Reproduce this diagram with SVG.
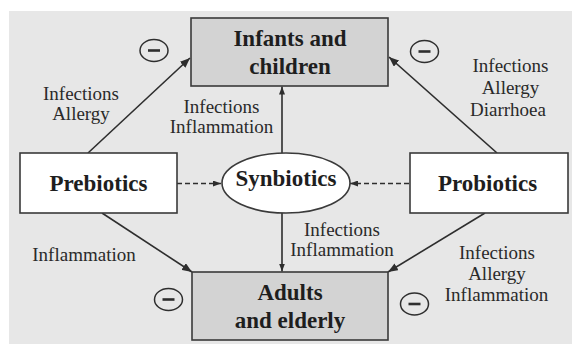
<svg xmlns="http://www.w3.org/2000/svg" width="572" height="344" viewBox="0 0 572 344">
<style>
.bg{fill:#e7e7e7}
.box{fill:#d3d3d3;stroke:#3a3a3a;stroke-width:1.6}
.wbox{fill:#ffffff;stroke:#3a3a3a;stroke-width:1.6}
.b{font-family:"Liberation Serif","Times New Roman",serif;font-weight:bold;font-size:23px;fill:#1e1e1e;text-anchor:middle}
.r{font-family:"Liberation Serif","Times New Roman",serif;font-size:19px;fill:#2a2a2a;text-anchor:middle}
.ln{stroke:#2e2e2e;stroke-width:1.6;fill:none}
.dash{stroke:#2e2e2e;stroke-width:1.4;fill:none;stroke-dasharray:5 3}
.neg{fill:none;stroke:#2e2e2e;stroke-width:1.5}
.bar{stroke:#2e2e2e;stroke-width:2.6}
</style>
<defs>
<marker id="ah" viewBox="0 0 10 8" refX="10" refY="4" markerWidth="10" markerHeight="8" markerUnits="userSpaceOnUse" orient="auto">
<path d="M0,0 L10,4 L0,8 Z" fill="#2e2e2e"/>
</marker>
<marker id="ahs" viewBox="0 0 8 6" refX="8" refY="3" markerWidth="8" markerHeight="6" markerUnits="userSpaceOnUse" orient="auto">
<path d="M0,0 L8,3 L0,6 Z" fill="#2e2e2e"/>
</marker>
</defs>
<rect class="bg" x="9" y="11" width="563" height="333"/>

<g id="connectors">
<line class="ln" x1="88" y1="153" x2="190" y2="58" marker-end="url(#ah)"/>
<line class="ln" x1="497" y1="153" x2="389" y2="57" marker-end="url(#ah)"/>
<line class="ln" x1="102" y1="213" x2="192" y2="272" marker-end="url(#ah)"/>
<line class="ln" x1="485" y1="213" x2="388" y2="272" marker-end="url(#ah)"/>
<line class="ln" x1="282" y1="153" x2="282" y2="86.5" marker-end="url(#ahs)"/>
<line class="ln" x1="282" y1="213" x2="282" y2="271.5" marker-end="url(#ahs)"/>
<line class="dash" x1="177" y1="183.5" x2="221" y2="183.5" marker-end="url(#ahs)"/>
<line class="dash" x1="409" y1="183.5" x2="350" y2="183.5" marker-end="url(#ahs)"/>
</g>

<g id="infants">
<rect class="box" x="191" y="18" width="197" height="68"/>
<text class="b" x="290" y="46">Infants and</text>
<text class="b" x="290" y="73.5">children</text>
</g>

<g id="adults">
<rect class="box" x="192" y="272" width="196" height="68"/>
<text class="b" x="290" y="300">Adults</text>
<text class="b" x="290" y="327.5">and elderly</text>
</g>

<g id="prebiotics">
<rect class="wbox" x="20" y="153" width="157" height="60"/>
<text class="b" x="98.5" y="190.5">Prebiotics</text>
</g>

<g id="probiotics">
<rect class="wbox" x="410" y="153" width="158" height="60"/>
<text class="b" x="487.5" y="190.5">Probiotics</text>
</g>

<g id="synbiotics">
<ellipse cx="286" cy="183" rx="64" ry="30" fill="#ffffff" stroke="#3a3a3a" stroke-width="1.6"/>
<text class="b" x="286" y="185.5">Synbiotics</text>
</g>

<g id="labels">
<text class="r" x="81" y="100">Infections</text>
<text class="r" x="81" y="120">Allergy</text>
<text class="r" x="221.5" y="112.5">Infections</text>
<text class="r" x="221.5" y="133">Inflammation</text>
<text class="r" x="510.5" y="72">Infections</text>
<text class="r" x="510.5" y="93.5">Allergy</text>
<text class="r" x="508" y="115.5">Diarrhoea</text>
<text class="r" x="84" y="261">Inflammation</text>
<text class="r" x="342" y="236">Infections</text>
<text class="r" x="342" y="256">Inflammation</text>
<text class="r" x="497" y="259">Infections</text>
<text class="r" x="497" y="280">Allergy</text>
<text class="r" x="496.5" y="301">Inflammation</text>
</g>

<g id="minus-signs">
<ellipse class="neg" cx="154" cy="50.5" rx="14" ry="11"/>
<line class="bar" x1="148" y1="50.5" x2="160" y2="50.5"/>
<ellipse class="neg" cx="424.5" cy="51.5" rx="14" ry="11"/>
<line class="bar" x1="418.5" y1="51.5" x2="430.5" y2="51.5"/>
<ellipse class="neg" cx="168.5" cy="299.5" rx="14" ry="11"/>
<line class="bar" x1="162.5" y1="299.5" x2="174.5" y2="299.5"/>
<ellipse class="neg" cx="414.5" cy="304" rx="14" ry="11"/>
<line class="bar" x1="408.5" y1="304" x2="420.5" y2="304"/>
</g>
</svg>
